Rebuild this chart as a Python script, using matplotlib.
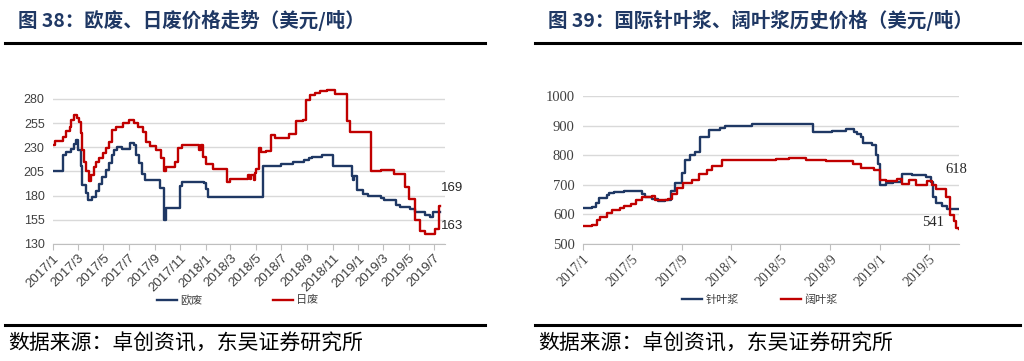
import matplotlib
matplotlib.use("Agg")
import matplotlib.pyplot as plt
import pandas as pd

plt.rcParams["font.family"] = ["Noto Sans CJK SC", "DejaVu Sans"]

# ---- 图38 data: step breakpoints (USD/ton) ----
eu_dates = ["2017-01-01", "2017-01-25", "2017-02-02", "2017-02-12", "2017-02-20", "2017-02-24",
            "2017-03-02", "2017-03-08", "2017-03-12", "2017-03-22", "2017-03-26", "2017-04-05",
            "2017-04-13", "2017-04-21", "2017-04-29", "2017-05-07", "2017-05-15", "2017-05-21",
            "2017-05-27", "2017-06-02", "2017-06-15", "2017-07-04", "2017-07-14", "2017-07-19",
            "2017-07-26", "2017-08-02", "2017-08-10", "2017-09-13", "2017-09-23", "2017-09-29",
            "2017-10-31", "2017-11-05", "2017-12-28", "2018-01-01", "2018-01-07", "2018-05-18",
            "2018-07-01", "2018-07-28", "2018-08-25", "2018-09-04", "2018-09-12", "2018-10-07",
            "2018-11-01", "2018-12-16", "2018-12-18", "2018-12-22", "2018-12-28", "2019-01-13",
            "2019-01-25", "2019-02-23", "2019-03-02", "2019-04-02", "2019-04-10", "2019-05-04",
            "2019-05-16", "2019-06-10", "2019-06-22", "2019-06-28", "2019-07-15"]
eu_vals = [205, 222, 225, 228, 233, 238,
           227, 211, 191, 183, 175, 179,
           185, 192, 199, 207, 214, 222,
           227, 230, 228, 234, 232, 222,
           214, 202, 196, 188, 155, 167,
           190, 194, 193, 187, 179, 211,
           213, 215, 217, 219, 220, 222,
           211, 200, 196, 200, 186, 182,
           180, 178, 176, 170, 168, 166,
           163, 160, 158, 163, 163]

jp_dates = ["2017-01-01", "2017-01-05", "2017-01-25", "2017-02-02", "2017-02-10", "2017-02-14",
            "2017-02-20", "2017-02-28", "2017-03-03", "2017-03-08", "2017-03-12", "2017-03-15",
            "2017-03-22", "2017-03-27", "2017-04-03", "2017-04-08", "2017-04-14", "2017-04-22",
            "2017-04-30", "2017-05-08", "2017-05-16", "2017-05-22", "2017-06-01", "2017-06-18",
            "2017-07-01", "2017-07-14", "2017-07-22", "2017-08-04", "2017-08-12", "2017-08-20",
            "2017-09-05", "2017-09-15", "2017-09-23", "2017-09-29", "2017-10-20", "2017-10-27",
            "2017-11-05", "2017-12-15", "2017-12-21", "2017-12-26", "2018-01-02", "2018-01-18",
            "2018-02-20", "2018-02-28", "2018-04-12", "2018-04-16", "2018-04-20", "2018-04-26",
            "2018-04-29", "2018-05-02", "2018-05-08", "2018-05-14", "2018-05-26", "2018-06-07",
            "2018-06-15", "2018-07-20", "2018-08-06", "2018-08-22", "2018-08-28", "2018-09-07",
            "2018-09-19", "2018-10-01", "2018-10-17", "2018-11-06", "2018-12-04", "2018-12-12",
            "2019-01-30", "2019-02-23", "2019-03-26", "2019-04-23", "2019-05-01", "2019-05-16",
            "2019-05-28", "2019-06-10", "2019-07-04", "2019-07-12", "2019-07-15"]
jp_vals = [232, 237, 241, 247, 251, 258,
           263, 260, 256, 245, 227, 215,
           206, 195, 201, 210, 215, 219,
           224, 229, 236, 248, 251, 255,
           258, 255, 251, 246, 236, 231,
           227, 219, 205, 210, 215, 229,
           232, 227, 232, 220, 213, 208,
           194, 197, 201, 197, 201, 196,
           203, 208, 229, 225, 226, 243,
           240, 244, 257, 258, 279, 284,
           286, 288, 289, 285, 257, 246,
           205, 207, 202, 189, 177, 155,
           143, 140, 145, 169, 169]

# ---- 图39 data ----
sw_dates = ["2017-01-01", "2017-01-23", "2017-02-01", "2017-02-10", "2017-03-01", "2017-03-07",
            "2017-03-19", "2017-04-13", "2017-04-30", "2017-05-25", "2017-06-02", "2017-06-19",
            "2017-07-04", "2017-07-22", "2017-08-06", "2017-08-16", "2017-09-02", "2017-09-10",
            "2017-09-22", "2017-10-04", "2017-10-16", "2017-11-06", "2017-12-04", "2017-12-16",
            "2018-01-19", "2018-02-21", "2018-07-22", "2018-08-16", "2018-09-06", "2018-10-09",
            "2018-10-30", "2018-11-07", "2018-11-15", "2018-11-20", "2018-12-13", "2018-12-23",
            "2018-12-27", "2019-01-01", "2019-01-16", "2019-02-03", "2019-02-22", "2019-02-26",
            "2019-03-22", "2019-04-24", "2019-05-08", "2019-05-13", "2019-05-19", "2019-06-03",
            "2019-06-16", "2019-07-15"]
sw_vals = [620, 625, 640, 655, 665, 673,
           677, 680, 678, 670, 660, 652,
           645, 650, 680, 705, 740, 785,
           800, 812, 862, 885, 893, 897,
           900, 905, 880, 878, 883, 887,
           880, 870, 860, 840, 835, 800,
           770, 700, 705, 708, 720, 735,
           733, 725, 710, 660, 640, 630,
           618, 618]

hw_dates = ["2017-01-01", "2017-01-23", "2017-02-04", "2017-02-12", "2017-03-01", "2017-03-13",
            "2017-04-01", "2017-04-13", "2017-04-30", "2017-05-12", "2017-05-25", "2017-06-19",
            "2017-06-26", "2017-07-30", "2017-08-09", "2017-08-20", "2017-09-05", "2017-09-26",
            "2017-10-13", "2017-11-02", "2017-11-15", "2017-12-09", "2018-01-02", "2018-02-04",
            "2018-04-20", "2018-05-23", "2018-07-04", "2018-08-22", "2018-09-28", "2018-10-27",
            "2018-11-17", "2018-12-19", "2019-01-01", "2019-01-16", "2019-02-12", "2019-02-26",
            "2019-03-14", "2019-03-30", "2019-04-27", "2019-05-10", "2019-05-19", "2019-06-13",
            "2019-06-22", "2019-07-02", "2019-07-08", "2019-07-15"]
hw_vals = [560, 565, 580, 590, 605, 615,
           620, 628, 635, 648, 660, 662,
           650, 652, 668, 690, 705, 715,
           735, 750, 765, 785, 783, 785,
           787, 792, 785, 782, 780, 770,
           758, 750, 715, 712, 720, 702,
           715, 700, 712, 700, 685, 658,
           597, 578, 553, 550]

left_title = "图 38：欧废、日废价格走势（美元/吨）"
right_title = "图 39：国际针叶浆、阔叶浆历史价格（美元/吨）"
source = "数据来源：卓创资讯，东吴证券研究所"

NAVY = "#1F3864"
RED = "#C00000"
GRID = "#D9D9D9"
W, H = 1024, 361

fig = plt.figure(figsize=(W / 100, H / 100), dpi=100)


def box(x0, y0, x1, y1):
    # pixel box (top-left origin) -> figure fraction rect
    return [x0 / W, 1 - y1 / H, (x1 - x0) / W, (y1 - y0) / H]


def style_axes(ax, yticks, tickfont, ysize, xsize):
    for s in ["top", "right", "left"]:
        ax.spines[s].set_visible(False)
    ax.spines["bottom"].set_color("#BFBFBF")
    ax.set_yticks(yticks)
    ax.yaxis.grid(True, color=GRID, linewidth=1.0)
    ax.set_axisbelow(True)
    ax.tick_params(axis="y", length=0, labelsize=ysize, labelcolor="#404040", pad=6)
    ax.tick_params(axis="x", length=4, color="#BFBFBF", labelsize=xsize, labelcolor="#404040",
                   direction="out", pad=2)
    for lab in ax.get_yticklabels() + ax.get_xticklabels():
        lab.set_family(tickfont)


def date_ticks(ax, start, end, step):
    ticks = pd.date_range(start, end, freq=f"{step}MS")
    ax.set_xticks(ticks)
    ax.set_xticklabels([f"{d.year}/{d.month}" for d in ticks], rotation=45,
                       ha="right", rotation_mode="anchor")


# ---- left chart ----
axl = fig.add_axes(box(53, 84, 445, 244))
axl.step(pd.to_datetime(eu_dates), eu_vals, where="post", color=NAVY, lw=1.7, label="欧废")
axl.step(pd.to_datetime(jp_dates), jp_vals, where="post", color=RED, lw=1.7, label="日废")
axl.set_xlim(pd.Timestamp("2017-01-01"), pd.Timestamp("2019-07-27"))
axl.set_ylim(130, 295.5)
date_ticks(axl, "2017-01-01", "2019-07-01", 2)
style_axes(axl, [130, 155, 180, 205, 230, 255, 280], "Liberation Sans", 9, 9.5)
axl.text(pd.Timestamp("2019-07-18"), 188, str(jp_vals[-1]), fontsize=9.5,
         family="Liberation Sans", color="#262626", va="center")
axl.text(pd.Timestamp("2019-07-18"), 148.5, str(eu_vals[-1]), fontsize=9.5,
         family="Liberation Sans", color="#262626", va="center")

# ---- right chart ----
axr = fig.add_axes(box(583, 96, 959, 244))
axr.step(pd.to_datetime(sw_dates), sw_vals, where="post", color=NAVY, lw=1.7, label="针叶浆")
axr.step(pd.to_datetime(hw_dates), hw_vals, where="post", color=RED, lw=1.7, label="阔叶浆")
axr.set_xlim(pd.Timestamp("2017-01-01"), pd.Timestamp("2019-07-15"))
axr.set_ylim(500, 1000)
date_ticks(axr, "2017-01-01", "2019-05-01", 4)
style_axes(axr, [500, 600, 700, 800, 900, 1000], "Liberation Serif", 10.5, 10)
axr.text(pd.Timestamp("2019-06-11"), 750, str(sw_vals[-1]), fontsize=10.5,
         family="Liberation Serif", color="#262626", va="center")
axr.text(pd.Timestamp("2019-04-16"), 571, "541", fontsize=10.5,
         family="Liberation Serif", color="#262626", va="center")

# ---- legends ----
for ax, x, gap in [(axl, 157 / W, 6.3), (axr, 682 / W, 3.8)]:
    leg = ax.legend(loc="center left", bbox_to_anchor=(x, 1 - 300 / H),
                    bbox_transform=fig.transFigure, ncol=2, frameon=False,
                    borderaxespad=0, borderpad=0,
                    fontsize=8, handlelength=1.8, handletextpad=0.3, columnspacing=gap)
    for t in leg.get_texts():
        t.set_color("#404040")

# ---- titles, rules, source ----
for x0, x1, title in [(5, 485, left_title), (535, 1020, right_title)]:
    fig.text((x0 + 13) / W, 1 - 20 / H, title, fontsize=14, fontweight="bold",
             color=NAVY, va="center")
    fig.add_artist(plt.Line2D([x0 / W, x1 / W], [1 - 43 / H] * 2, color="black", lw=2.2))
    fig.add_artist(plt.Line2D([x0 / W, x1 / W], [1 - 325 / H] * 2, color="black", lw=2.2))
    fig.text((x0 + 3) / W, 1 - 344 / H, source, fontsize=15, color="black", va="center")

fig.savefig("out.png", dpi=100)
